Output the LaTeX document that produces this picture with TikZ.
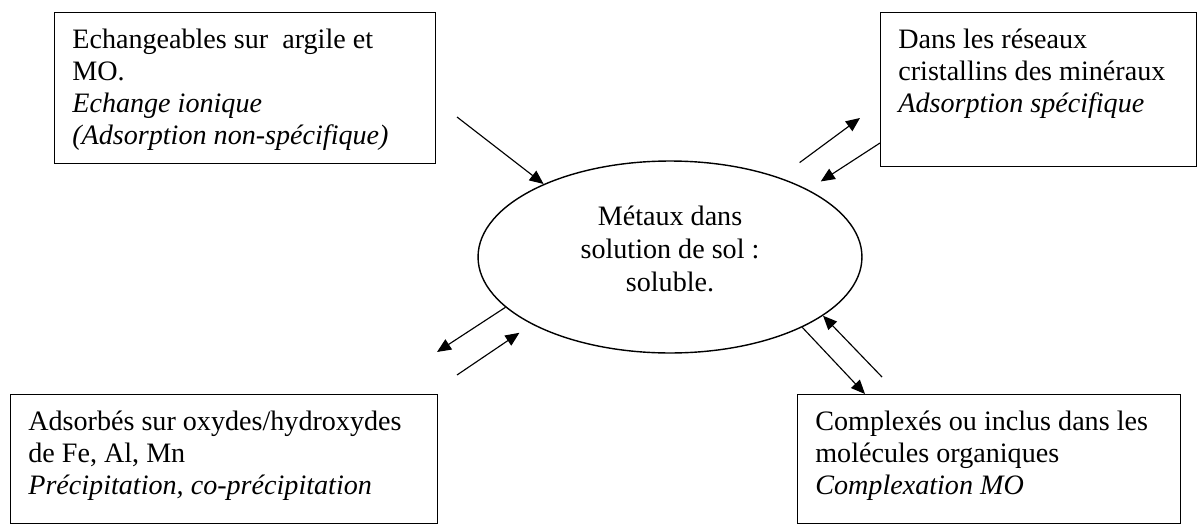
\documentclass[tikz,border=0pt]{standalone}
\usepackage{fontspec}
\setmainfont{Liberation Serif}
\usetikzlibrary{arrows.meta,shapes.geometric}

\begin{document}
\begin{tikzpicture}[x=0.02cm,y=-0.02cm,
  boite/.style={draw,line width=0.8pt,anchor=north west,inner sep=0pt},
  texte/.style={anchor=north west,align=left,inner sep=0pt,font=\fontsize{16}{18.2}\selectfont},
  fleche/.style={line width=0.65pt,-{Triangle[length=2.8mm,width=2.4mm]}}]
\useasboundingbox (0,0) rectangle (1197,524);
% solution du sol
\node[draw,line width=0.8pt,ellipse,minimum width=7.68cm,minimum height=3.84cm,inner sep=0pt] (sol) at (670,257) {};
\node[align=center,inner sep=0pt,font=\fontsize{16}{18.6}\selectfont] (soltxt) at (670,249) {Métaux dans\\solution de sol :\\soluble.};
% les quatre compartiments
\node[boite,minimum width=7.62cm,minimum height=3.02cm] (echg) at (54,12) {};
\node[texte] (echgtxt) at ([shift={(18,17)}]echg.north west) {Echangeables sur~ argile et\\MO.\\\textit{Echange ionique}\\\textit{(Adsorption non-spécifique)}};
\node[boite,minimum width=6.32cm,minimum height=3.08cm] (cris) at (880,12) {};
\node[texte] (cristxt) at ([shift={(18,17)}]cris.north west) {Dans les réseaux\\cristallins des minéraux\\\textit{Adsorption spécifique}};
\node[boite,minimum width=8.54cm,minimum height=2.58cm] (oxy) at (10,394) {};
\node[texte] (oxytxt) at ([shift={(18,17)}]oxy.north west) {Adsorbés sur oxydes/hydroxydes\\de Fe, Al, Mn\\\textit{Précipitation, co-précipitation}};
\node[boite,minimum width=7.66cm,minimum height=2.58cm] (cplx) at (797,394) {};
\node[texte] (cplxtxt) at ([shift={(18,17)}]cplx.north west) {Complexés ou inclus dans les\\molécules organiques\\\textit{Complexation MO}};
% echanges
\coordinate (a1) at (457,117);
\coordinate (a2) at (860,118);
\coordinate (a3) at (880,143);
\coordinate (a4) at (437,352);
\coordinate (a5) at (457,375);
\coordinate (a6) at (882,377);
\coordinate (a7) at (865,394);
\draw[fleche] (a1) -- (sol.150);
\draw[fleche,shorten <=0.5cm] (sol.36.8) -- (a2);
\draw[fleche,shorten >=0.3cm] (a3) -- (sol.26.9);
\draw[fleche] (sol.197) -- (a4);
\draw[fleche,shorten >=0.3cm] (a5) -- (sol.206.6);
\draw[fleche] (a6) -- (sol.339.1);
\draw[fleche] (sol.332.2) -- (a7);
\end{tikzpicture}
\end{document}
